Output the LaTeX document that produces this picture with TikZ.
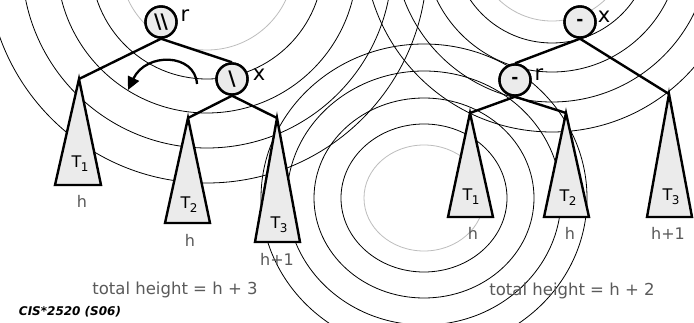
\documentclass[tikz,border=0pt]{standalone}
\usepackage{fontspec}
\setmainfont{DejaVu Sans}
\usetikzlibrary{arrows.meta}
\definecolor{fillgray}{HTML}{EBEBEB}
\definecolor{txtgray}{HTML}{5A5A5A}
\definecolor{ringgray}{HTML}{BDBDBD}
\newcommand\Tsub[1]{T\kern-0.03em\raisebox{-0.45ex}{\fontsize{12}{12}\selectfont #1}}
\tikzset{
  ring/.style={draw=black, line width=0.8pt},
  innerring/.style={draw=ringgray, line width=0.8pt},
  edge/.style={draw=black, line width=2.4pt},
  vert/.style={circle, draw=black, line width=2.4pt, fill=fillgray, minimum size=31pt, inner sep=0pt, font=\fontsize{17}{17}\selectfont\bfseries},
  bigsym/.style={font=\fontsize{20}{20}\selectfont\bfseries},
  tri/.style={draw=black, line width=2.4pt, fill=fillgray, line join=miter},
  tlab/.style={font=\fontsize{16}{16}\selectfont, text=black},
  hlab/.style={font=\fontsize{16}{16}\selectfont, text=txtgray},
  nlab/.style={font=\fontsize{21}{21}\selectfont, text=black},
  totlab/.style={font=\fontsize{16.5}{16.5}\selectfont, text=txtgray},
}
\begin{document}
\begin{tikzpicture}[x=1pt,y=-1pt]
\useasboundingbox (0,0) rectangle (694,323);
\fill[white] (0,0) rectangle (694,323);
\begin{scope}
\clip (0,0) rectangle (694,323);
% ripple group 1
\draw[innerring] (207,-37) circle[radius=87pt];
\foreach \r in {116,150,185,220} \draw[ring] (207,-37) circle[radius=\r pt];
% ripple group 2
\draw[innerring] (552,-56) circle[radius=77pt];
\foreach \r in {99,128,158,188} \draw[ring] (552,-56) circle[radius=\r pt];
% ripple group 3
\draw[innerring] (424,198) ellipse[x radius=60pt, y radius=53pt];
\foreach \a/\b in {83/74,110/100,137/127,163/154} \draw[ring] (424,198) ellipse[x radius=\a pt, y radius=\b pt];
\end{scope}

% ---------- left tree ----------
\coordinate (la1) at (79,79);
\coordinate (la2) at (188,118);
\coordinate (la3) at (277,118);
\node[vert, bigsym] (lr) at (161,22) {\textbackslash\kern-0.04em\textbackslash};
\node[vert, bigsym] (lx) at (232,79) {\textbackslash};
\draw[edge] (lr.south) -- (la1);
\draw[edge] (lr.south) -- (lx.north);
\draw[edge] (lx.south) -- (la2);
\draw[edge] (lx.south) -- (la3);
\node[vert, bigsym] at (lr) {\textbackslash\kern-0.04em\textbackslash};
\node[vert, bigsym] at (lx) {\textbackslash};
\draw[tri] (la1) -- (55,185) -- (101,185) -- cycle;
\draw[tri] (la2) -- (165,223) -- (210,223) -- cycle;
\draw[tri] (la3) -- (255,242) -- (300,242) -- cycle;
\node[tlab] (lt1) at (80,164) {\Tsub{1}};
\node[tlab] (lt2) at (189,205) {\Tsub{2}};
\node[tlab] (lt3) at (279,225) {\Tsub{3}};
\node[hlab] (lh1) at (82,201) {h};
\node[hlab] (lh2) at (190,240) {h};
\node[hlab] (lh3) at (277,259) {h+1};
\node[nlab] (lrl) at (185,16) {r};
\node[nlab] (lxl) at (259,75) {x};
\coordinate (arS) at (197,84);
\coordinate (arE) at (128,90);
\draw[line width=2.3pt, -{Triangle[length=13pt,width=12pt]}] (arS) .. controls (195,53) and (146,52) .. (arE);
\node[totlab] (ltot) at (175,290) {total height = h + 3};
\node[font=\fontsize{12}{12}\selectfont\bfseries\itshape] (cis) at (70,312) {CIS*2520 (S06)};

% ---------- right tree ----------
\coordinate (ra1) at (470,113);
\coordinate (ra2) at (566,113);
\coordinate (ra3) at (669,94);
\node[vert] (rx) at (580,22) {-};
\node[vert] (rr) at (515,80) {-};
\draw[edge] (rx.south) -- (rr.north);
\draw[edge] (rx.south) -- (ra3);
\draw[edge] (rr.south) -- (ra1);
\draw[edge] (rr.south) -- (ra2);
\node[vert] at (rx) {-};
\node[vert] at (rr) {-};
\draw[tri] (ra1) -- (448,217) -- (493,217) -- cycle;
\draw[tri] (ra2) -- (544,217) -- (589,217) -- cycle;
\draw[tri] (ra3) -- (647,217) -- (692,217) -- cycle;
\node[tlab] (rt1) at (471,197) {\Tsub{1}};
\node[tlab] (rt2) at (568,198) {\Tsub{2}};
\node[tlab] (rt3) at (671,197) {\Tsub{3}};
\node[hlab] (rh1) at (473,233) {h};
\node[hlab] (rh2) at (570,233) {h};
\node[hlab] (rh3) at (668,233) {h+1};
\node[nlab] (rxl) at (604,17) {x};
\node[nlab] (rrl) at (539,75) {r};
\node[totlab] (rtot) at (572,291) {total height = h + 2};
\end{tikzpicture}
\end{document}
